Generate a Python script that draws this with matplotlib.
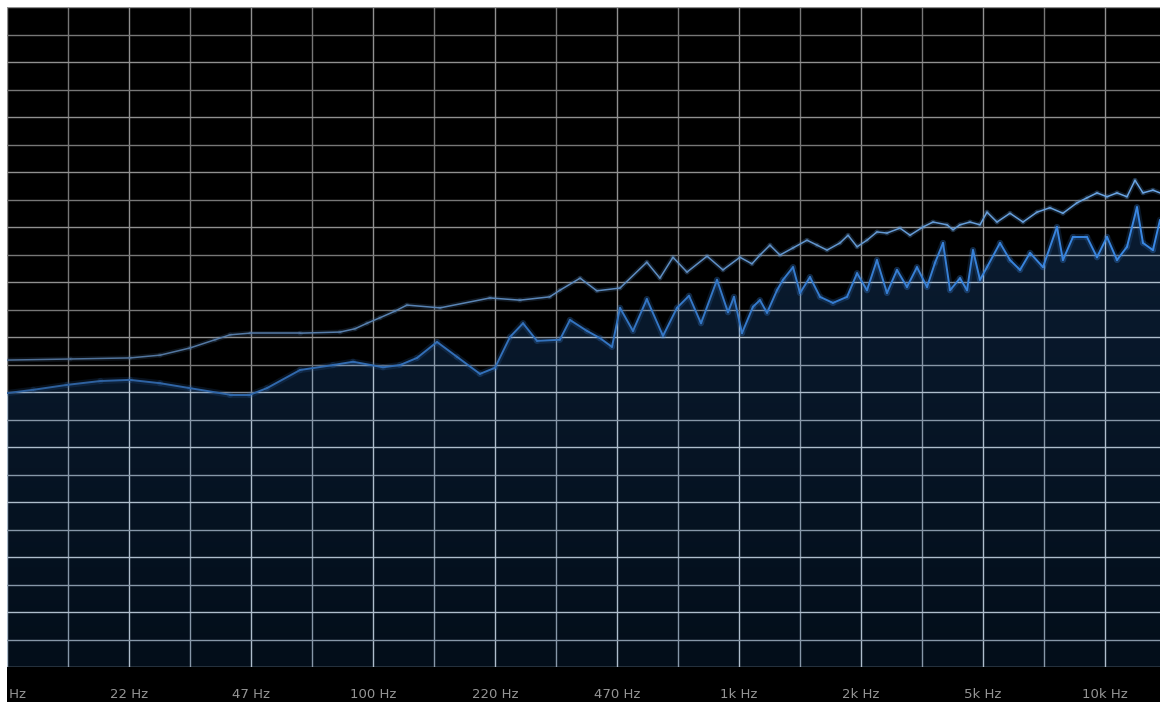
import numpy as np
import matplotlib
matplotlib.use("Agg")
import matplotlib.pyplot as plt
from matplotlib.patches import Rectangle, PathPatch
from matplotlib.collections import LineCollection
from matplotlib.colors import LinearSegmentedColormap
from matplotlib.ticker import FixedLocator, NullFormatter

# ---- spectrum data -------------------------------------------------------
# peak-hold trace (Hz, dB)
peak_freq = [10, 14.9, 21.7, 26.2, 31.6, 37.0, 40.7, 46.1, 63.2, 81.3, 89.3, 96.3,
             104.5, 114.8, 123.8, 152.5, 208.8, 252, 304, 324, 368, 409, 473, 560,
             608, 660, 721, 818, 904, 1006, 1085, 1141, 1215, 1294, 1405, 1534,
             1634, 1740, 1888, 1986, 2102, 2237, 2382, 2537, 2754, 2933, 3182,
             3389, 3701, 3844, 4017, 4277, 4555, 4760, 5069, 5501, 5970, 6519,
             7074, 7676, 8385, 8929, 9510, 10127, 10784, 11485, 12078, 12700,
             13520, 14136]
peak_db = [-64.2, -64.0, -63.8, -63.3, -62.0, -60.5, -59.6, -59.3, -59.3, -59.1,
           -58.5, -57.5, -56.5, -55.3, -54.2, -54.7, -52.9, -53.3, -52.7, -51.5,
           -49.3, -51.6, -51.1, -46.4, -49.3, -45.5, -48.2, -45.3, -47.8, -45.5,
           -46.7, -45.1, -43.3, -45.1, -43.8, -42.4, -43.3, -44.2, -42.9, -41.5,
           -43.6, -42.4, -40.9, -41.1, -40.2, -41.5, -40.0, -39.1, -39.6, -40.5,
           -39.6, -39.1, -39.6, -37.3, -39.1, -37.5, -39.1, -37.3, -36.5, -37.5,
           -35.6, -34.7, -33.8, -34.5, -33.8, -34.5, -31.5, -33.8, -33.3, -33.8]

# live spectrum (Hz, dB)
live_freq = [10, 11.8, 14.6, 18.0, 21.7, 26.2, 31.6, 40.7, 46.1, 51.3, 63.2, 77.8,
             88.2, 106.5, 118.5, 131.9, 149.6, 169.6, 196.0, 215.4, 236.7, 257.0,
             280.6, 324, 345.3, 384.4, 417.1, 449.8, 473, 513.3, 560, 619.9, 677,
             730.2, 787.4, 870.9, 933.1, 969, 1019, 1092, 1141, 1193, 1270, 1319,
             1405, 1468, 1563, 1665, 1806, 1973, 2102, 2237, 2382, 2537, 2702,
             2877, 3064, 3264, 3432, 3610, 3773, 4017, 4198, 4359, 4555, 4760,
             5166, 5501, 5860, 6240, 6770, 7393, 7676, 8176, 8929, 9510, 10127,
             10784, 11485, 12230, 12700, 13520, 14136]
live_db = [-70.2, -69.6, -68.7, -68.0, -67.8, -68.4, -69.3, -70.5, -70.5, -69.3,
           -66.0, -65.1, -64.5, -65.5, -65.1, -63.8, -60.9, -63.6, -66.7, -65.6,
           -60.0, -57.5, -60.7, -60.5, -56.9, -58.9, -60.2, -61.8, -54.7, -58.9,
           -53.1, -59.8, -54.7, -52.5, -57.5, -49.6, -55.5, -52.7, -59.3, -54.5,
           -53.3, -55.6, -51.5, -49.6, -47.3, -52.0, -49.1, -52.7, -53.8, -52.7,
           -48.4, -51.5, -46.0, -52.0, -47.8, -50.9, -47.3, -50.9, -46.5, -42.9,
           -51.5, -49.3, -51.5, -44.2, -49.6, -47.3, -42.9, -46.0, -47.8, -44.7,
           -47.3, -40.0, -46.0, -41.8, -41.8, -45.5, -41.8, -46.0, -43.6, -36.4,
           -42.9, -44.2, -38.7]

# labels sit on every third-of-a-decade line and show rounded values
tick_labels = ["10 Hz", "22 Hz", "47 Hz", "100 Hz", "220 Hz", "470 Hz",
               "1k Hz", "2k Hz", "5k Hz", "10k Hz"]

# ---- layout ---------------------------------------------------------------
W, H = 1160, 702
fig = plt.figure(figsize=(W / 100, H / 100), dpi=100, facecolor="white")
left, top, bottom = 7 / W, 1 - 7 / H, 1 - 667 / H

# label band below the plot, drawn underneath the axes
band = Rectangle((left, 0), 1 - left, bottom, transform=fig.transFigure,
                 facecolor="black", edgecolor="none", zorder=-10)
fig.patches.append(band)

ax = fig.add_axes([left, bottom, 1 - left, top - bottom])
ax.set_facecolor("black")

F_MIN, F_MAX = 10.0, 14136.0
DB_MIN, DB_MAX = -120.0, 0.0
ax.set_xscale("log")
ax.set_xlim(F_MIN, F_MAX)
ax.set_ylim(DB_MIN, DB_MAX)

# ---- grid lines: 1/6 decade vertically, 5 dB horizontally ------------------
steps_x = np.arange(0, 19)
grid_x = F_MIN * 10 ** (steps_x / 6.0)
grid_y = np.arange(DB_MIN, DB_MAX + 0.1, 5.0)
tick_pos = grid_x[::2][:len(tick_labels)]


def draw_grid(minor_col, major_col, z, clip=None):
    arts = []
    for i, gx in enumerate(grid_x):
        col = major_col if i % 2 == 0 else minor_col
        arts.append(ax.axvline(gx, color=col, lw=1.0, zorder=z))
    for j, gy in enumerate(grid_y):
        col = major_col if j % 2 == 0 else minor_col
        arts.append(ax.axhline(gy, color=col, lw=1.0, zorder=z))
    if clip is not None:
        for a in arts:
            a.set_clip_path(clip)
    return arts


draw_grid("#777777", "#909090", 1)

# ---- live spectrum fill with vertical gradient -----------------------------
fill = ax.fill_between(live_freq, live_db, DB_MIN, facecolor="none",
                       edgecolor="none", zorder=2)
fill_path = fill.get_paths()[0]
grad = np.linspace(0, 1, 256).reshape(-1, 1)
navy = LinearSegmentedColormap.from_list("navy", ["#030e1a", "#0b1d33"])
img = ax.imshow(grad, cmap=navy, aspect="auto", origin="lower",
                extent=[F_MIN, F_MAX, DB_MIN, -30], zorder=2,
                interpolation="bilinear")
img.set_clip_path(fill_path, transform=ax.transData)

# brighter grid inside the filled area
clip_patch = PathPatch(fill_path, transform=ax.transData,
                       facecolor="none", edgecolor="none")
ax.add_patch(clip_patch)
draw_grid("#8797a8", "#aebdcc", 3, clip=clip_patch)


# ---- traces: colour brightens towards high frequencies ---------------------
def trace(freq, db, c_lo, c_hi, lw, z):
    pts = np.column_stack([freq, db])
    segs = np.stack([pts[:-1], pts[1:]], axis=1)
    cm = LinearSegmentedColormap.from_list("tr", [c_lo, c_hi])
    t = (np.log10(np.asarray(freq[:-1])) - 1.0) / (np.log10(F_MAX) - 1.0)
    glow = LineCollection(segs, colors=cm(t), linewidths=lw * 3.2, alpha=0.18,
                          zorder=z - 1, capstyle="round", joinstyle="round")
    core = LineCollection(segs, colors=cm(t), linewidths=lw, zorder=z,
                          capstyle="round", joinstyle="round")
    ax.add_collection(glow)
    ax.add_collection(core)


trace(peak_freq, peak_db, "#4f6f96", "#6aa6e6", 1.1, 6)
trace(live_freq, live_db, "#2d5f9c", "#3a88e4", 1.4, 6)

# ---- axes cosmetics ------------------------------------------------------------
for s in ax.spines.values():
    s.set_visible(False)
ax.set_yticks([])
ax.xaxis.set_major_locator(FixedLocator(tick_pos))
ax.set_xticklabels(tick_labels)
ax.xaxis.set_minor_formatter(NullFormatter())
ax.tick_params(axis="x", which="both", length=0, pad=15, labelsize=9.5,
               labelcolor="#959595")
for lbl in ax.get_xticklabels():
    lbl.set_clip_path(band)

fig.savefig("out.png", dpi=100, facecolor="white")
